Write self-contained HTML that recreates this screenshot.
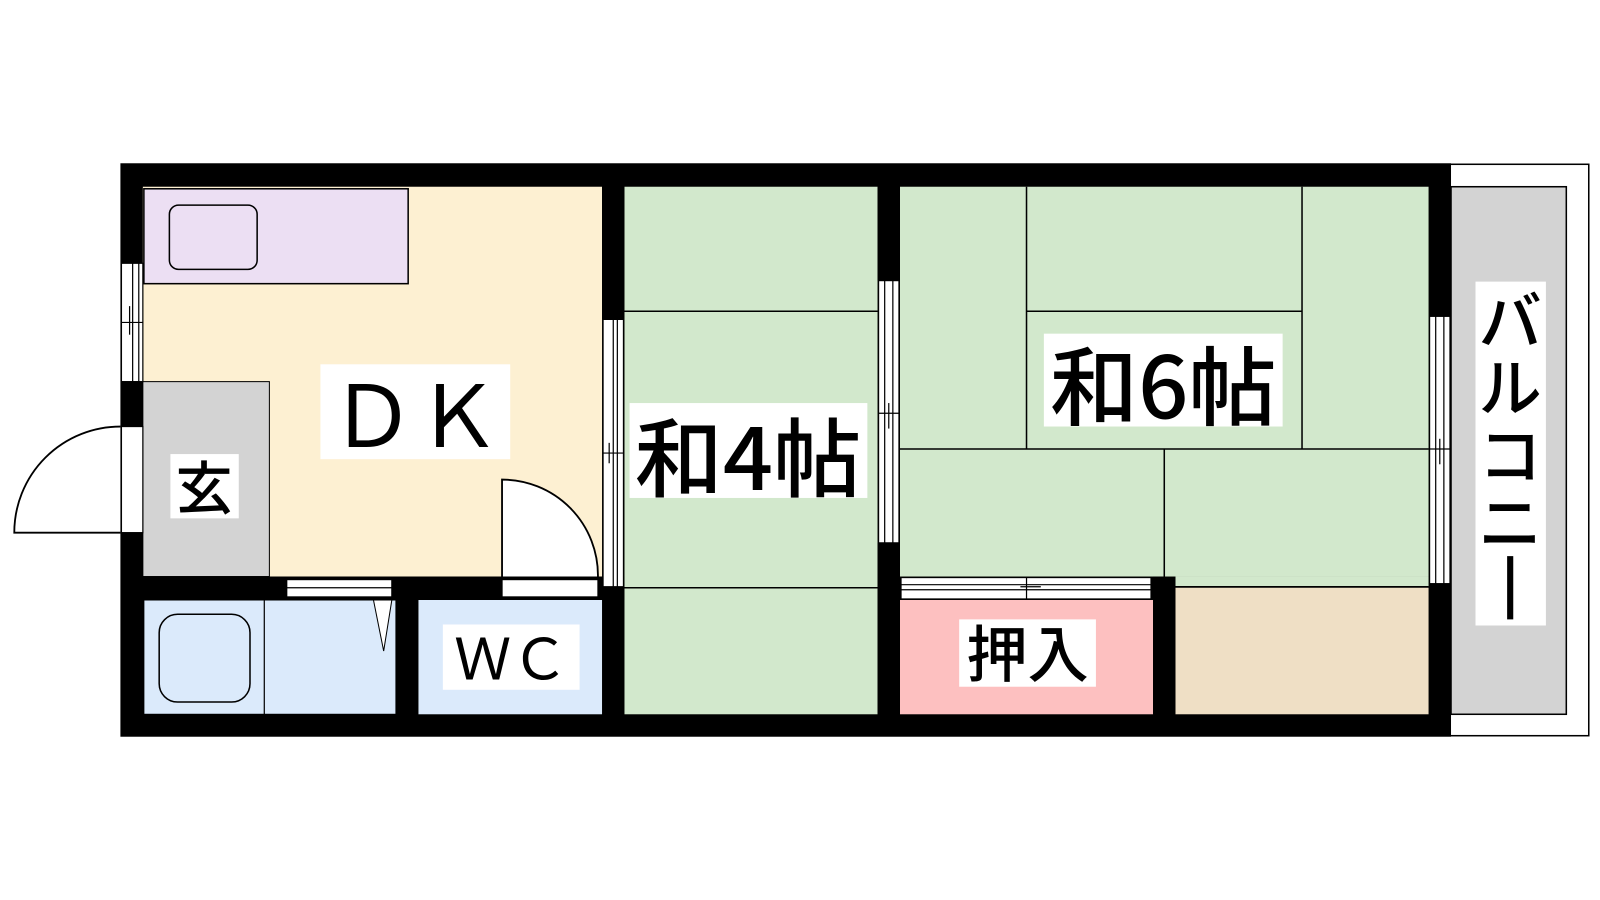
<!DOCTYPE html>
<html><head><meta charset="utf-8"><style>
html,body{margin:0;padding:0;background:#fff;width:1600px;height:900px;overflow:hidden}
text{font-family:"Liberation Sans","Noto Sans CJK JP",sans-serif;fill:#000}
.j{font-family:"Noto Sans CJK JP",sans-serif;font-weight:500}
</style></head><body>
<svg width="1600" height="900" viewBox="0 0 1600 900" xmlns="http://www.w3.org/2000/svg">
<g transform="scale(1.0204)">
<rect x="1410" y="161" width="147" height="560" fill="#fff" stroke="#000" stroke-width="1.5"/>
<rect x="1422" y="183" width="113" height="517" fill="#d3d3d3" stroke="#000" stroke-width="1.5"/>
<rect x="118" y="160" width="1304" height="562" fill="#000"/>
<rect x="140" y="183" width="450" height="382" fill="#fdf0d2"/>
<rect x="141" y="185" width="259" height="93" fill="#ecdff3" stroke="#000" stroke-width="1.5"/>
<rect x="166" y="201" width="86" height="63" rx="9" fill="none" stroke="#000" stroke-width="1.5"/>
<rect x="140" y="374" width="124" height="191" fill="#d3d3d3" stroke="#000" stroke-width="1"/>
<rect x="141" y="588" width="247" height="112" fill="#dbeafb" stroke="#000" stroke-width="1"/>
<line x1="259" y1="588" x2="259" y2="700" stroke="#000" stroke-width="1.2"/>
<rect x="156" y="602" width="89" height="86" rx="18" fill="none" stroke="#000" stroke-width="1.5"/>
<polygon points="366,588 384,588 376,638" fill="#fff" stroke="#000" stroke-width="1"/>
<rect x="410" y="588" width="180" height="112" fill="#dbeafb"/>
<rect x="612" y="183" width="248" height="517" fill="#d2e8cc"/>
<line x1="612" y1="305" x2="860" y2="305" stroke="#000" stroke-width="1.5"/>
<line x1="612" y1="576" x2="860" y2="576" stroke="#000" stroke-width="1.5"/>
<rect x="882" y="183" width="518" height="382" fill="#d2e8cc"/>
<rect x="1141" y="565" width="259" height="10" fill="#d2e8cc"/>
<g stroke="#000" stroke-width="1.5">
<line x1="1006" y1="183" x2="1006" y2="440"/>
<line x1="1276" y1="183" x2="1276" y2="440"/>
<line x1="1006" y1="305" x2="1276" y2="305"/>
<line x1="882" y1="440" x2="1400" y2="440"/>
<line x1="1141" y1="440" x2="1141" y2="575"/>
<line x1="1152" y1="575" x2="1400" y2="575"/>
</g>
<rect x="882" y="588" width="248" height="112" fill="#fdc0c0"/>
<rect x="1152" y="576" width="248" height="124" fill="#efdfc5"/>
<rect x="590" y="183" width="22" height="130" fill="#000"/>
<rect x="860" y="183" width="22" height="92" fill="#000"/>
<rect x="388" y="565" width="22" height="135" fill="#000"/>
<rect x="1130" y="565" width="22" height="135" fill="#000"/>
<rect x="140" y="565" width="472" height="23" fill="#000"/>
<rect x="860" y="532" width="22" height="168" fill="#000"/>
<g fill="#fff" stroke="#000" stroke-width="1.2">
<rect x="119" y="258" width="21" height="116"/>
<rect x="119" y="418" width="21" height="104"/>
<rect x="281" y="568" width="103" height="17"/>
<rect x="492" y="568" width="94" height="17"/>
<rect x="591" y="313" width="20" height="262"/>
<rect x="861" y="275" width="20" height="257"/>
<rect x="1401" y="310" width="20" height="262"/>
<rect x="883" y="566" width="245" height="21"/>
</g>
<g stroke="#000" stroke-width="1.2" fill="none">
<line x1="130" y1="258" x2="130" y2="374"/><line x1="136" y1="258" x2="136" y2="374"/>
<line x1="119" y1="316" x2="140" y2="316"/><line x1="127" y1="300" x2="127" y2="328"/>
<line x1="601" y1="313" x2="601" y2="575"/><line x1="605" y1="313" x2="605" y2="575"/>
<line x1="591" y1="444" x2="611" y2="444"/><line x1="597" y1="434" x2="597" y2="454"/>
<line x1="867" y1="275" x2="867" y2="532"/><line x1="875" y1="275" x2="875" y2="532"/>
<line x1="861" y1="405" x2="881" y2="405"/><line x1="871" y1="395" x2="871" y2="420"/>
<line x1="1407" y1="310" x2="1407" y2="572"/><line x1="1415" y1="310" x2="1415" y2="572"/>
<line x1="1401" y1="440" x2="1421" y2="440"/><line x1="1411" y1="430" x2="1411" y2="455"/>
<line x1="883" y1="573" x2="1128" y2="573"/><line x1="883" y1="578" x2="1128" y2="578"/>
<line x1="1006" y1="566" x2="1006" y2="587"/><line x1="1000" y1="575" x2="1020" y2="575"/>
<line x1="281" y1="576" x2="384" y2="576"/>
<path d="M118,418 A104,104 0 0 0 14,522 L118,522" stroke-width="1.8"/>
<path d="M492,565 L492,470 A94,94 0 0 1 586,565" fill="#fff" stroke-width="1.8"/>
</g>
<rect x="314" y="357" width="186" height="93" fill="#fff"/>
<text x="407" y="438" font-size="84" text-anchor="middle">ＤＫ</text>
<rect x="167" y="445" width="67" height="63" fill="#fff"/>
<text class="j" x="200" y="499" font-size="56" text-anchor="middle">玄</text>
<rect x="434" y="612" width="134" height="64" fill="#fff"/>
<text x="501" y="666" font-size="56" text-anchor="middle">ＷＣ</text>
<rect x="617" y="395" width="233" height="93" fill="#fff"/>
<text class="j" x="733" y="480" font-size="84" text-anchor="middle" textLength="222" lengthAdjust="spacingAndGlyphs">和4帖</text>
<rect x="1023" y="327" width="234" height="91" fill="#fff"/>
<text class="j" x="1140" y="410" font-size="84" text-anchor="middle" textLength="222" lengthAdjust="spacingAndGlyphs">和6帖</text>
<rect x="940" y="607" width="134" height="66" fill="#fff"/>
<text class="j" x="1007" y="663" font-size="60" text-anchor="middle">押入</text>
<rect x="1446" y="276" width="69" height="337" fill="#fff"/>
<text class="j" x="1480" y="337" font-size="62" text-anchor="middle">バ</text>
<text class="j" x="1480" y="403" font-size="62" text-anchor="middle">ル</text>
<text class="j" x="1480" y="469" font-size="62" text-anchor="middle">コ</text>
<text class="j" x="1480" y="535" font-size="62" text-anchor="middle">ニ</text>
<rect x="1477" y="545" width="6" height="62" fill="#000"/>
</g>
</svg>
</body></html>
